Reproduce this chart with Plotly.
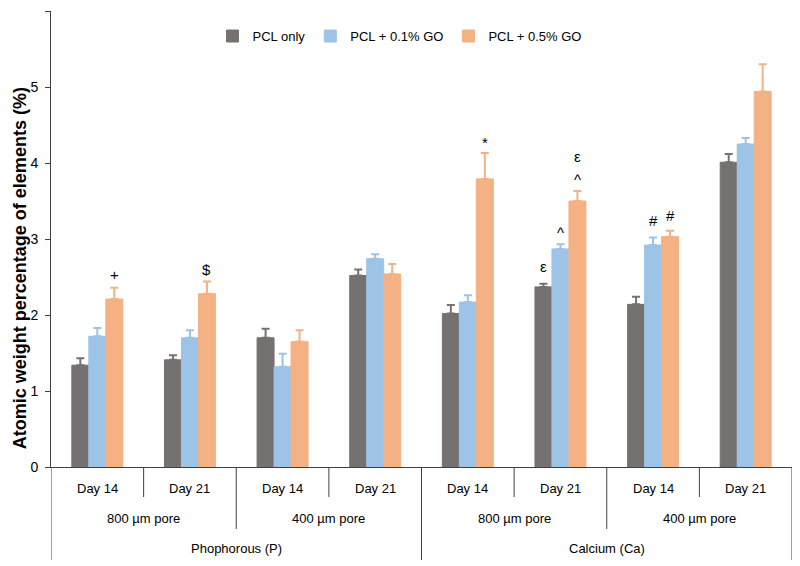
import plotly.graph_objects as go

# ---- data ----
days = ["Day 14", "Day 21", "Day 14", "Day 21", "Day 14", "Day 21", "Day 14", "Day 21"]
pores = ["800 µm pore", "400 µm pore", "800 µm pore", "400 µm pore"]
elements = ["Phophorous (P)", "Calcium (Ca)"]
series_names = ["PCL only", "PCL + 0.1% GO", "PCL + 0.5% GO"]
y_title = "Atomic weight percentage of elements (%)"

pcl_only = [1.34, 1.41, 1.70, 2.52, 2.02, 2.37, 2.14, 4.01]
pcl_only_err = [0.09, 0.06, 0.12, 0.08, 0.11, 0.04, 0.10, 0.11]
go_01 = [1.72, 1.70, 1.32, 2.74, 2.17, 2.87, 2.92, 4.25]
go_01_err = [0.11, 0.10, 0.17, 0.06, 0.09, 0.06, 0.10, 0.08]
go_05 = [2.21, 2.28, 1.65, 2.54, 3.79, 3.50, 3.03, 4.94]
go_05_err = [0.15, 0.16, 0.15, 0.13, 0.34, 0.13, 0.08, 0.36]

# significance marks: (category index, series index, symbol, extra pixel shift)
marks = [
    (0, 2, "+", 13), (1, 2, "$", 12), (4, 2, "*", 11),
    (5, 0, "ε", 17), (5, 1, "^", 12), (5, 2, "^", 12), (5, 2, "ε", 35),
    (6, 1, "#", 17), (6, 2, "#", 15),
]

colors = ["#767171", "#9DC3E6", "#F4B183"]
values = [pcl_only, go_01, go_05]
errors = [pcl_only_err, go_01_err, go_05_err]

FONT = "Liberation Sans"
x = list(range(len(days)))
bargap = 0.45
bw = (1 - bargap) / 3

fig = go.Figure()
for name, vals, errs, col in zip(series_names, values, errors, colors):
    fig.add_trace(go.Bar(
        x=x, y=vals, name=name,
        marker=dict(color=col, line=dict(color=col, width=1)),
        error_y=dict(type="data", symmetric=False, array=errs,
                     arrayminus=[0] * len(errs), color=col, thickness=2, width=4),
    ))

annotations = []
for ci, si, sym, shift in marks:
    annotations.append(dict(
        x=ci + (si - 1) * bw, y=values[si][ci] + errors[si][ci],
        xref="x", yref="y", text=sym, showarrow=False,
        yanchor="middle", yshift=shift,
        font=dict(family=FONT, size=15, color="#000000"),
    ))

shapes = []
line_col = "#404040"
plot_h = 456.0
plot_w = 741.0
def py(pix_below):
    return -pix_below / plot_h

for i, d in enumerate(days):
    annotations.append(dict(x=i, y=py(21), xref="x", yref="paper", text=d,
                            showarrow=False, yanchor="middle",
                            font=dict(family=FONT, size=13, color="#000000")))
for j, p in enumerate(pores):
    annotations.append(dict(x=2 * j + 0.5, y=py(52), xref="x", yref="paper", text=p,
                            showarrow=False, yanchor="middle",
                            font=dict(family=FONT, size=13, color="#000000")))
for k, e in enumerate(elements):
    annotations.append(dict(x=4 * k + 1.5, y=py(81), xref="x", yref="paper", text=e,
                            showarrow=False, yanchor="middle",
                            font=dict(family=FONT, size=13, color="#000000")))

# y-axis title as rotated annotation (positioned like the original)
annotations.append(dict(x=-31 / plot_w, y=0.436, xref="paper", yref="paper",
                        text="<b>" + y_title + "</b>", textangle=-90,
                        showarrow=False, xanchor="center", yanchor="middle",
                        font=dict(family=FONT, size=18, color="#000000")))

for i in range(len(days) + 1):
    b = i - 0.5
    if i % 4 == 0:
        depth = 93
    elif i % 2 == 0:
        depth = 62
    else:
        depth = 30
    shapes.append(dict(type="line", xref="x", yref="paper", x0=b, x1=b,
                       y0=0, y1=py(depth), line=dict(color=line_col, width=1)))

fig.update_layout(
    width=792, height=558,
    margin=dict(l=43, r=8, t=3, b=99),
    paper_bgcolor="white", plot_bgcolor="white",
    barmode="group", bargap=bargap, bargroupgap=0,
    font=dict(family=FONT, size=12, color="#000000"),
    legend=dict(orientation="h", x=0.218, y=0.945, xanchor="left", yanchor="middle",
                font=dict(family=FONT, size=13), itemwidth=30,
                bgcolor="rgba(0,0,0,0)"),
    xaxis=dict(range=[-0.5, 7.5], showticklabels=False, ticks="",
               showline=True, linecolor=line_col, linewidth=1, automargin=False,
               showgrid=False, zeroline=False, fixedrange=True),
    yaxis=dict(range=[0, 6], dtick=1, ticks="outside", ticklen=5, automargin=False,
               tickcolor=line_col, showline=True, linecolor=line_col, linewidth=1,
               showgrid=False, zeroline=False, ticklabelstandoff=4,
               tickfont=dict(family=FONT, size=14)),
    annotations=annotations, shapes=shapes,
)

fig.write_html("out.html")
